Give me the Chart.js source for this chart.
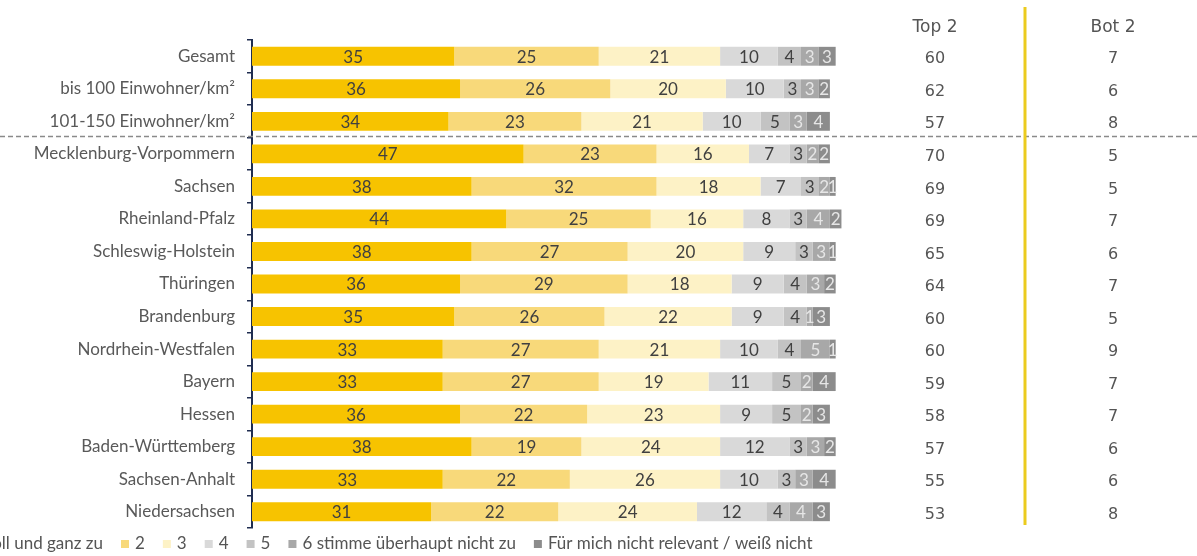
<!DOCTYPE html>
<html>
<head>
<meta charset="utf-8">
<script src="https://cdn.jsdelivr.net/npm/chart.js@4.4.1/dist/chart.umd.min.js"></script>
<style>
  html, body { margin: 0; padding: 0; background: #fff; }
  #wrap { width: 1197px; height: 556px; position: relative; }
</style>
</head>
<body>
<div id="wrap"><canvas id="chart"></canvas></div>
<script>
// Kategorien
const categories = ['Gesamt', 'bis 100 Einwohner/km²', '101-150 Einwohner/km²', 'Mecklenburg-Vorpommern',
  'Sachsen', 'Rheinland-Pfalz', 'Schleswig-Holstein', 'Thüringen', 'Brandenburg', 'Nordrhein-Westfalen',
  'Bayern', 'Hessen', 'Baden-Württemberg', 'Sachsen-Anhalt', 'Niedersachsen'];

// Antworten je Skalenpunkt (%)
const s1 = [35, 36, 34, 47, 38, 44, 38, 36, 35, 33, 33, 36, 38, 33, 31];
const s2 = [25, 26, 23, 23, 32, 25, 27, 29, 26, 27, 27, 22, 19, 22, 22];
const s3 = [21, 20, 21, 16, 18, 16, 20, 18, 22, 21, 19, 23, 24, 26, 24];
const s4 = [10, 10, 10, 7, 7, 8, 9, 9, 9, 10, 11, 9, 12, 10, 12];
const s5 = [4, 3, 5, 3, 3, 3, 3, 4, 4, 4, 5, 5, 3, 3, 4];
const s6 = [3, 3, 3, 2, 2, 4, 3, 3, 1, 5, 2, 2, 3, 3, 4];
const s7 = [3, 2, 4, 2, 1, 2, 1, 2, 3, 1, 4, 3, 2, 4, 3];

// Tabelle rechts
const top2 = [60, 62, 57, 70, 69, 69, 65, 64, 60, 60, 59, 58, 57, 55, 53];
const bot2 = [7, 6, 8, 5, 5, 7, 6, 7, 5, 9, 7, 7, 6, 6, 8];

const seriesLabels = ['1 stimme voll und ganz zu', '2', '3', '4', '5',
  '6 stimme überhaupt nicht zu', 'Für mich nicht relevant / weiß nicht'];
const seriesData = [s1, s2, s3, s4, s5, s6, s7];
const colors = ['#F7C300', '#F8D97A', '#FDF2C6', '#D9D9D9', '#C3C3C3', '#A8A8A8', '#8C8C8C'];
const labelColors = ['#404040', '#404040', '#404040', '#404040', '#404040', '#E6E6E6', '#E6E6E6'];

const FONT = 'Lato';

// Werte in den Balken
const segmentLabels = {
  id: 'segmentLabels',
  afterDatasetsDraw(chart) {
    const ctx = chart.ctx;
    ctx.save();
    ctx.font = '17px ' + FONT;
    ctx.textAlign = 'center';
    ctx.textBaseline = 'middle';
    chart.data.datasets.forEach((ds, i) => {
      const meta = chart.getDatasetMeta(i);
      meta.data.forEach((bar, j) => {
        const cx = (bar.x + bar.base) / 2;
        ctx.fillStyle = labelColors[i];
        ctx.fillText(String(ds.data[j]), cx, bar.y + 1);
      });
    });
    ctx.restore();
  }
};

// Top 2 / Bot 2 Tabelle, Trennlinien
const sideTable = {
  id: 'sideTable',
  afterDraw(chart) {
    const ctx = chart.ctx;
    const y = chart.scales.y;
    ctx.save();
    // gestrichelte Linie nach Zeile 3
    const yDash = (y.getPixelForValue(2) + y.getPixelForValue(3)) / 2 - 1;
    ctx.strokeStyle = '#8a8a8a';
    ctx.lineWidth = 1.5;
    ctx.setLineDash([5, 3]);
    ctx.beginPath();
    ctx.moveTo(0, yDash);
    ctx.lineTo(chart.width, yDash);
    ctx.stroke();
    ctx.setLineDash([]);
    // gelbe Linie
    ctx.strokeStyle = '#EBCB1E';
    ctx.lineWidth = 3;
    ctx.beginPath();
    ctx.moveTo(1025, 7);
    ctx.lineTo(1025, 525);
    ctx.stroke();

    ctx.fillStyle = '#555555';
    ctx.textAlign = 'center';
    ctx.textBaseline = 'middle';
    ctx.font = '17px "DejaVu Sans"';
    ctx.fillText('Top 2', 935, 28);
    ctx.fillText('Bot 2', 1113, 28);
    ctx.font = '16px "DejaVu Sans"';
    categories.forEach((c, i) => {
      const py = y.getPixelForValue(i) + 3;
      ctx.fillText(String(top2[i]), 935, py);
      ctx.fillText(String(bot2[i]), 1113, py);
    });
    ctx.restore();
  }
};

// Legende unten (links abgeschnitten)
const bottomLegend = {
  id: 'bottomLegend',
  afterDraw(chart) {
    const ctx = chart.ctx;
    ctx.save();
    ctx.font = '17px ' + FONT;
    ctx.textBaseline = 'middle';
    ctx.textAlign = 'left';
    const ly = 544;
    const box = 8, gapBox = 6, gapItem = 18;
    // erstes Element endet bei ca. x=103
    let x = 103 - ctx.measureText(seriesLabels[0]).width - gapBox - box;
    seriesLabels.forEach((lab, i) => {
      ctx.fillStyle = colors[i];
      ctx.fillRect(x, ly - box / 2, box, box);
      x += box + gapBox;
      ctx.fillStyle = '#555555';
      ctx.fillText(lab, x, ly);
      x += ctx.measureText(lab).width + gapItem;
    });
    ctx.restore();
  }
};

const ctx = document.getElementById('chart').getContext('2d');
new Chart(ctx, {
  type: 'bar',
  data: {
    labels: categories,
    datasets: seriesData.map((d, i) => ({
      label: seriesLabels[i],
      data: d,
      backgroundColor: colors[i],
      borderWidth: 0,
      barPercentage: 0.58,
      categoryPercentage: 1.0
    }))
  },
  options: {
    indexAxis: 'y',
    responsive: true,
    maintainAspectRatio: false,
    animation: false,
    layout: { padding: { top: 40, bottom: 28, left: 0, right: 344 } },
    plugins: {
      legend: { display: false },
      tooltip: { enabled: false }
    },
    scales: {
      x: {
        stacked: true,
        min: 0,
        max: 104,
        display: false
      },
      y: {
        stacked: true,
        afterFit(scale) { scale.width = 252; },
        border: { display: true, color: '#1F2D50', width: 2 },
        grid: {
          display: true,
          drawOnChartArea: false,
          offset: true,
          tickLength: 5,
          color: '#1F2D50',
          lineWidth: 1.5
        },
        ticks: {
          color: '#595959',
          font: { family: FONT, size: 17 },
          padding: 12
        }
      }
    }
  },
  plugins: [segmentLabels, sideTable, bottomLegend]
});
</script>
</body>
</html>
